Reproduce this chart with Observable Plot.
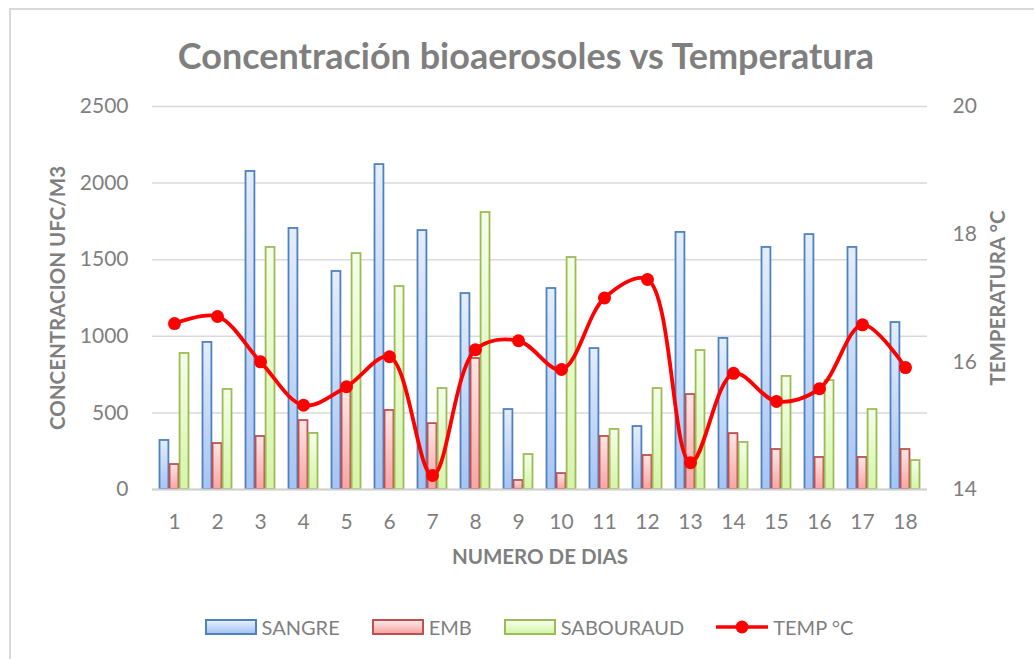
<!DOCTYPE html>
<html><head><meta charset="utf-8">
<script src="https://cdn.jsdelivr.net/npm/d3@7"></script>
<script src="https://cdn.jsdelivr.net/npm/@observablehq/plot@0.6"></script>
<style>
body{margin:0;overflow:hidden;background:#fff;font-family:Lato,"Open Sans",sans-serif;}
#wrap{position:relative;width:1034px;height:659px;overflow:hidden;}
#frame{position:absolute;left:9px;top:8px;right:-20px;bottom:-20px;border-left:2px solid #d9d9d9;border-top:2px solid #d9d9d9;pointer-events:none;}
#title{margin-left:9px;width:1034px;height:54px;padding-top:36px;line-height:38px;text-align:center;font-weight:bold;font-size:36px;color:#7f7f7f;white-space:nowrap;}
#chart svg{display:block;}
#legend{margin-left:9px;width:1040px;padding-top:37px;display:flex;justify-content:center;align-items:center;font-size:20px;color:#7f7f7f;line-height:20px;}
.item{display:flex;align-items:center;margin:0 16px;}
.sw{width:48px;height:12px;border:2px solid;margin-right:5px;}
</style></head>
<body><div id="wrap"><div id="frame"></div><div id="title"></div><div id="chart"></div><div id="legend"></div></div>
<script>
const titleText = "Concentración bioaerosoles vs Temperatura";
const xTitle = "NUMERO DE DIAS";
const yTitle = "CONCENTRACION UFC/M3";
const y2Title = "TEMPERATURA °C";
const days = [1,2,3,4,5,6,7,8,9,10,11,12,13,14,15,16,17,18];
const sangre = [320,960,2076,1704,1423,2121,1690,1279,522,1312,920,411,1678,986,1580,1664,1580,1090];
const emb = [163,300,346,450,646,516,430,855,59,104,346,222,620,365,261,209,209,261];
const sabouraud = [888,653,1580,366,1540,1325,659,1808,228,1514,392,659,907,307,738,711,522,189];
const temp = [16.6,16.71,16.0,15.32,15.61,16.08,14.22,16.19,16.33,15.88,17.0,17.29,14.42,15.82,15.38,15.58,16.58,15.91];
const concTicks = [0,500,1000,1500,2000,2500];
const tempTicks = [14,16,18,20];
const seriesNames = ["SANGRE","EMB","SABOURAUD"];
const lineName = "TEMP °C";

const strokes = ["#4f81bd","#c0504d","#9bbb59"];
const gradTop = ["#e4eefd","#ffe6e6","#f5ffe8"];
const gradBot = ["#a6c4f4","#f7a5a5","#d6f4a8"];
const gradIds = ["gS","gE","gA"];

const yMax = concTicks[concTicks.length-1];
const tMin = tempTicks[0], tMax = tempTicks[tempTicks.length-1];
const toY = t => (t - tMin) / (tMax - tMin) * yMax;
const rows = days.map((d,i)=>({day:d, v0:sangre[i], v1:emb[i], v2:sabouraud[i], tempY:toY(temp[i])}));

const W = 1034, H = 490, mL = 152, mR = 107, mT = 16, mB = 91;
const step = (W - mL - mR) / days.length;
const bw = step * 0.7, third = bw / 3;

const bars = [0,1,2].map(k => Plot.barY(rows, {
  x:"day", y:"v"+k, fill:`url(#${gradIds[k]})`, stroke:strokes[k], strokeWidth:1.8,
  insetLeft: k*third + 0.5, insetRight:(2-k)*third + 0.5
}));

const svg = Plot.plot({
  width:W, height:H, marginLeft:mL, marginRight:mR, marginTop:mT, marginBottom:mB,
  x:{type:"band", domain:days, paddingInner:0.3, paddingOuter:0.15},
  y:{domain:[0,yMax]},
  style:{fontFamily:"Lato, 'Open Sans', sans-serif", color:"#7f7f7f", background:"white", overflow:"visible"},
  marks:[
    Plot.gridY(concTicks, {stroke:"#d9d9d9", strokeOpacity:1, strokeWidth:1.5}),
    Plot.axisY(concTicks, {anchor:"left", tickSize:0, tickPadding:24, fontSize:21, label:null, fill:"#7f7f7f", tickFormat: d => String(d)}),
    Plot.axisY(tempTicks.map(toY), {anchor:"right", tickSize:0, tickPadding:25, fontSize:21, label:null, fill:"#7f7f7f",
      tickFormat: v => String(Math.round(tMin + v / yMax * (tMax - tMin)))}),
    Plot.axisX({tickSize:0, tickPadding:25, fontSize:21, label:null, fill:"#7f7f7f"}),
    ...bars,
    Plot.ruleY([0], {stroke:"#d0d0d0", strokeWidth:2}),
    Plot.line(rows, {x:"day", y:"tempY", curve:"catmull-rom", stroke:"#ff0000", strokeWidth:3.8}),
    Plot.dot(rows, {x:"day", y:"tempY", r:6.5, fill:"#ff0000", stroke:"none"}),
    Plot.text([yTitle], {frameAnchor:"left", textAnchor:"middle", dx:-94, rotate:-90, fontWeight:"bold", fontSize:20.5, fill:"#7f7f7f"}),
    Plot.text([y2Title], {frameAnchor:"right", textAnchor:"middle", dx:71, rotate:-90, fontWeight:"bold", fontSize:20.5, fill:"#7f7f7f"}),
    Plot.text([xTitle], {frameAnchor:"bottom", dy:74, fontWeight:"bold", fontSize:20.5, fill:"#7f7f7f"})
  ]
});

const defs = d3.select(svg).insert("defs", ":first-child");
gradIds.forEach((id,k) => {
  const g = defs.append("linearGradient").attr("id", id).attr("x1",0).attr("y1",0).attr("x2",0).attr("y2",1);
  g.append("stop").attr("offset","0%").attr("stop-color", gradTop[k]);
  g.append("stop").attr("offset","100%").attr("stop-color", gradBot[k]);
});

document.getElementById("title").textContent = titleText;
document.getElementById("chart").appendChild(svg);

const legend = d3.select("#legend");
seriesNames.forEach((n,k) => {
  const it = legend.append("div").attr("class","item");
  it.append("div").attr("class","sw")
    .style("border-color", strokes[k])
    .style("background", `linear-gradient(${gradTop[k]}, ${gradBot[k]})`);
  it.append("span").text(n);
});
const li = legend.append("div").attr("class","item");
const ls = li.append("svg").attr("width",52).attr("height",16).style("margin-right","5px");
ls.append("line").attr("x1",0).attr("x2",52).attr("y1",8).attr("y2",8).attr("stroke","#ff0000").attr("stroke-width",3.6);
ls.append("circle").attr("cx",26).attr("cy",8).attr("r",6.5).attr("fill","#ff0000");
li.append("span").text(lineName);
</script></body></html>
